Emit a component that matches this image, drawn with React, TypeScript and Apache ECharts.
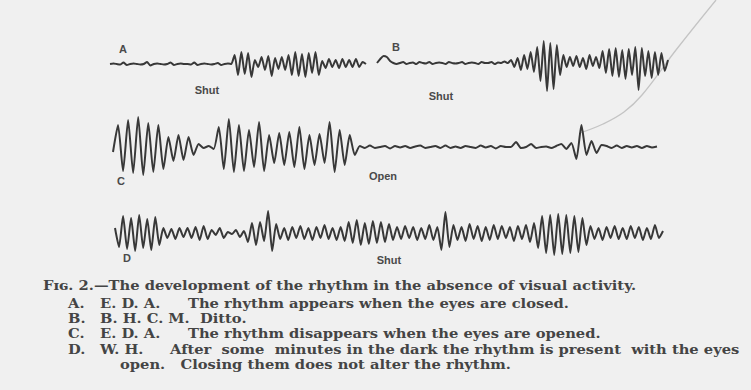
import React, { useEffect, useRef } from "react";
import * as echarts from "echarts";

// Trace amplitudes (arbitrary units, positive = up), one value per half-wave sample
const traceA = [
  0, 0.5, 0, -0.5, 1.5, -1, 0, 0.5, 0, -0.5,
  0, 2, -1.5, 0, 0.5, 0, -0.5, 0, 1.5, -1,
  0, 0.5, 0, 0, -0.5, 1.5, -1, 0, 0.5, 0,
  -0.5, 0, 1, -1, 0, 0.5, 0,
  9, -11, 12, -10, 11, -13, 4, -3,
  7, -6, 8, -12, 6, -5, 7, -6,
  9, -11, 12, -12, 10, -13, 11, -9,
  12, -11, 3,
  -4, 5, -3, 4, -4, 5, -3, 4, -3, 5, -3, 2, 0,
];

const traceB = [
  0, 4, 7, 6, 2, 0, -1, 0, 1, -1,
  0, 0.5, -1, 1, 0, -0.5, 1, -1, 0, 0.5,
  0, -1, 1, 0, -0.5, 0, 1, -1, 0, 0.5,
  0, -1, 1, 0, 0, 1, -1, 0.5, 0, 1.5, 0,
  3, -4, 5, -7, 8, -6, 11, -9,
  16, -18, 22, -28, 20, -26, 18, -12, 8,
  -4, 6, -3, 7, -4, 5, -6, 8, -3, 6, -5,
  12, -10, 14, -13, 15, -14, 13, -16, 14, -12, 16, -27, 15, -13, 12, -15, 11, -12, 10, -8, 3,
];

const traceC = [
  -5, 22, -24, 27, -26, 30, -28, 24, -25, 22, -22, 10, -14, 12, -13, 10, -8,
  3, -1, 1, -2,
  20, -22, 28, -25, 22, -24, 17, -20, 25, -24, 12, -16, 14, -18, 15, -20, 20, -22, 12, -18, 13, -16, 25, -25, 17, -18, 12, -8,
  1, -1, 1.5, -1, 0, 1, -1.5, 1, -0.5, 1,
  -1, 0.5, 1.5, -1, 0, 1, -1, 1.5, -1, 0.5,
  -1, 1, 0, -1, 1.5, -0.5, 1, -1.5, 1, 0,
  0, 5, -1, 0, 3, -1, 0, 0.5, -1, 1,
  3, -2, 4, -12, 22, -8, 6, -6, 2, 1,
  -1, 1.5, -1, 1, -0.5, 1, -1, 1, -0.5, 0.5,
];

const traceD = [
  5, -14, 17, -16, 15, -18, 18, -15, 14, -17, 16, -12,
  5, -5, 4, -6, 5, -4, 5, -5, 6, -7, 7, -6,
  3, -2, 5, -5, 1, -1, 3, -4, 2,
  -9, 10, -12, 11, -8, 22, -18, 9,
  -6, 5, -7, 6, -5, 7, -6, 5, -7, 6, -5, 8, -6, 5, -7, 6, -8,
  11, -10, 13, -12, 10, -11, 12, -10, 11, -9, 9, -7, 6,
  -6, 7, -5, 6, -7, 5, -6, 8, -7, 6,
  -17, 21,
  -14, 8, -7, 6, -8, 9, -6, 7, -8, 6, -7, 8, -6, 7, -5, 6, -8, 7, -6, 8, -9, 10,
  -15, 17, -20, 18, -22, 19, -21, 18, -20, 17, -19, 15, -12,
  7, -6, 5, -7, 6, -5, 7, -6, 5, -6, 7, -5, 6, -7, 5, -6, 8, -5, 2,
];

const traces = [traceA, traceB, traceC, traceD];
const traceLetters = ["A", "B", "C", "D"];
const eventLabels = ["Shut", "Shut", "Open", "Shut"];

const captionTitle = "Fɪɢ. 2.—The development of the rhythm in the absence of visual activity.";
const captionKeys = ["A.", "B.", "C.", "D."];
const captionSubjects = ["E. D. A.", "B. H. C. M.", "E. D. A.", "W. H."];
const captionTexts = [
  "The rhythm appears when the eyes are closed.",
  "Ditto.",
  "The rhythm disappears when the eyes are opened.",
  "After  some  minutes in the dark the rhythm is present  with the eyes",
];
const captionLast = "open.   Closing them does not alter the rhythm.";

export default function App() {
  const ref = useRef<HTMLDivElement>(null);
  useEffect(() => {
    if (!ref.current) return;
    const chart = echarts.init(ref.current, undefined, { renderer: "svg" });

    const grids = [
      { left: 110, top: 39, width: 256, height: 50 },
      { left: 377, top: 38, width: 291, height: 55 },
      { left: 113, top: 112, width: 544, height: 65 },
      { left: 115, top: 203, width: 548, height: 55 },
    ];
    const yRanges = [
      [-25, 25],
      [-30, 25],
      [-30, 35],
      [-25, 30],
    ];
    const letterPos = [
      [123, 49],
      [396, 47],
      [121, 181],
      [127, 258],
    ];
    const eventPos = [
      [207, 90],
      [441, 96],
      [383, 176],
      [389, 260],
    ];

    const serif = "'DejaVu Serif', 'Liberation Serif', serif";
    const ink = "#444";
    const sans = "'Liberation Sans', Arial, sans-serif";
    const capFont = `bold 13px ${serif}`;
    const capText = (x: number, y: number, text: string) => ({
      type: "text",
      x,
      y,
      scaleX: 1.13,
      style: {
        text,
        font: capFont,
        fill: ink,
        lineHeight: 13,
        textVerticalAlign: "middle",
      },
    });

    const graphic: any[] = [];
    traceLetters.forEach((t, i) => {
      graphic.push({
        type: "text",
        x: letterPos[i][0],
        y: letterPos[i][1],
        style: { text: t, font: `bold 11px ${sans}`, fill: "#4a4a4a", textAlign: "center", textVerticalAlign: "middle" },
      });
      graphic.push({
        type: "text",
        x: eventPos[i][0],
        y: eventPos[i][1],
        style: { text: eventLabels[i], font: `bold 11px ${sans}`, fill: "#4a4a4a", textAlign: "center", textVerticalAlign: "middle" },
      });
    });
    graphic.push({
      type: "polyline",
      shape: {
        points: [
          [716, 0],
          [676, 50],
          [642, 95],
          [624, 112],
          [603, 124],
          [580, 133],
        ],
        smooth: 0.4,
      },
      style: { stroke: "#c4c4c4", lineWidth: 1.3, fill: "none" },
      z: -1,
    });
    graphic.push(capText(43, 285, captionTitle));
    const rowY = [303, 318, 333, 349];
    captionKeys.forEach((k, i) => {
      graphic.push(capText(68, rowY[i], k));
      graphic.push(capText(100, rowY[i], captionSubjects[i]));
      graphic.push(capText([188, 200, 188, 170][i], rowY[i], captionTexts[i]));
    });
    graphic.push(capText(120, 364, captionLast));

    chart.setOption({
      animation: false,
      backgroundColor: "#f0f0f0",
      grid: grids,
      xAxis: traces.map((t, i) => ({
        type: "category",
        gridIndex: i,
        boundaryGap: false,
        data: t.map((_, j) => String(j)),
        show: false,
      })),
      yAxis: traces.map((_, i) => ({
        type: "value",
        gridIndex: i,
        min: yRanges[i][0],
        max: yRanges[i][1],
        show: false,
      })),
      series: traces.map((t, i) => ({
        type: "line",
        xAxisIndex: i,
        yAxisIndex: i,
        data: t,
        symbol: "none",
        smooth: 0.2,
        lineStyle: { color: "#383838", width: 2 },
      })),
      graphic,
    });
    return () => chart.dispose();
  }, []);
  return (
    <div
      ref={ref}
      style={{ position: "fixed", left: 0, top: 0, width: 751, height: 390, background: "#f0f0f0" }}
    />
  );
}
